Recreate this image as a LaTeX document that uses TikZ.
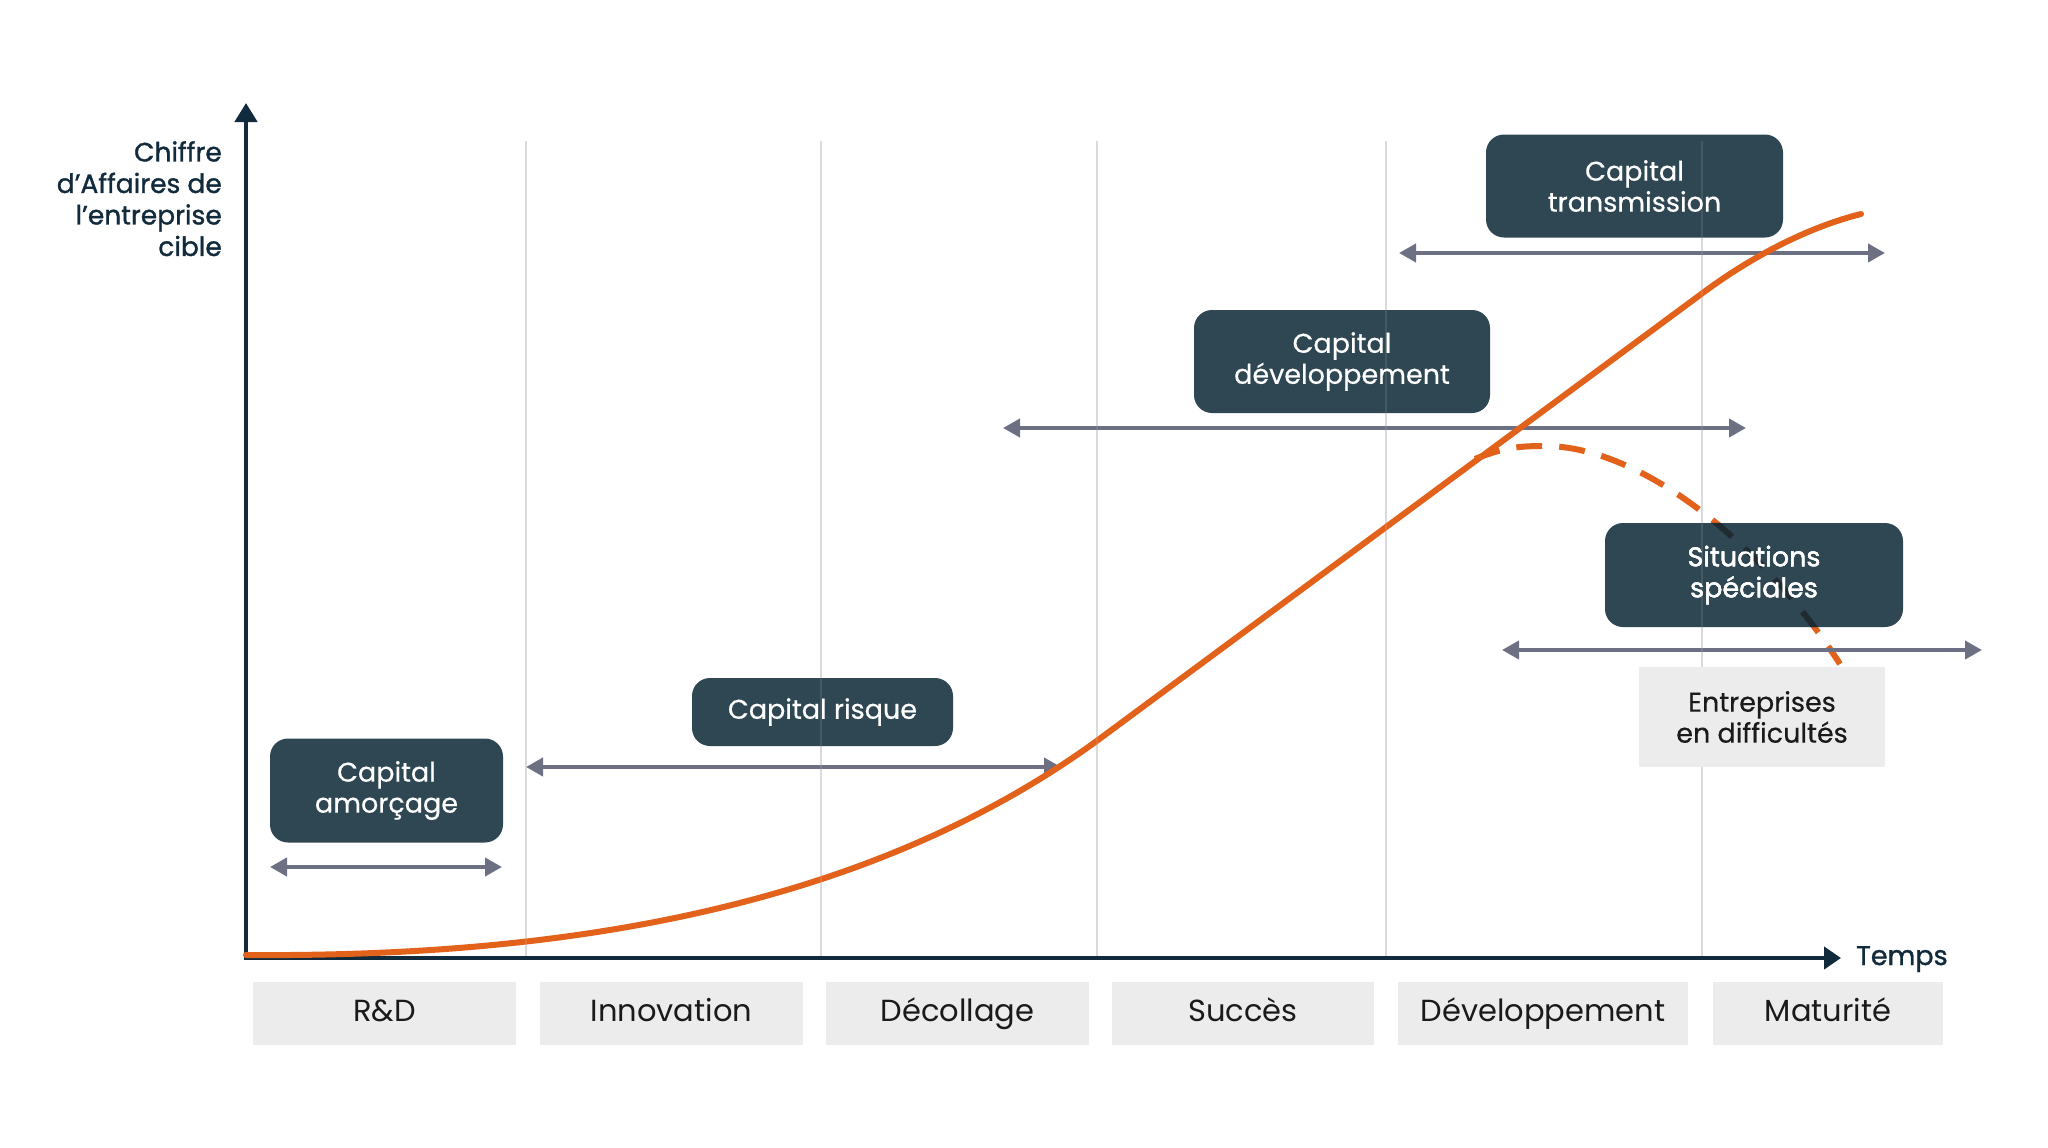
\documentclass[tikz,border=0pt]{standalone}
\usepackage{fontspec}
\setmainfont{Poppins}
\newfontfamily\popmed{Poppins}[FakeBold=0.5]
\newfontfamily\popsemi{Poppins}[FakeBold=1.2]
\usetikzlibrary{arrows.meta}
\definecolor{navy}{HTML}{112B3C}
\definecolor{boxc}{HTML}{2F4753}
\definecolor{rngc}{HTML}{6C7082}
\definecolor{phasec}{HTML}{ECECEC}
\definecolor{gridc}{HTML}{D6D6D6}
\definecolor{orangec}{HTML}{E2621B}
\definecolor{txtc}{HTML}{1A1A1A}
\definecolor{shadowc}{HTML}{1F2B31}
\begin{document}
\begin{tikzpicture}[x=1pt,y=-1pt,
  axis/.style={draw=navy, line width=4.5pt, line cap=butt, line join=miter},
  gridline/.style={draw=gridc, line width=2pt},
  gridfaint/.style={draw=white, line width=2pt, opacity=0.1},
  darkbox/.style={fill=boxc, rounded corners=18pt, text=white, inner sep=0pt,
    font=\popmed\fontsize{27}{31}\selectfont, align=center},
  phase/.style={fill=phasec, inner sep=0pt, minimum height=63pt, text=txtc,
    text height=21pt, text depth=6pt, font=\fontsize{30.5}{35}\selectfont},
  rng/.style={draw=rngc, line width=4pt,
    {Triangle[length=17pt,width=18pt]}-{Triangle[length=17pt,width=18pt]}},
  curve/.style={draw=orangec, line width=6pt, line cap=round, line join=round},
]
\useasboundingbox (0,0) rectangle (2048,1148);
\fill[white] (0,0) rectangle (2048,1148);

% grid lines
\foreach \gx in {526,821,1097,1386,1702}
  \draw[gridline] (\gx,141) -- (\gx,956);

% phase boxes
\node[phase, minimum width=263pt] (rd) at (384.5,1013.5) {R\&D};
\node[phase, minimum width=263pt] (inno) at (671.5,1013.5) {Innovation};
\node[phase, minimum width=263pt] (deco) at (957.5,1013.5) {Décollage};
\node[phase, minimum width=262pt] (succ) at (1243,1013.5) {Succès};
\node[phase, minimum width=290pt] (devp) at (1543,1013.5) {Développement};
\node[phase, minimum width=230pt] (matu) at (1828,1013.5) {Maturité};

% axes
\coordinate (O) at (246,958);
\coordinate (ytip) at (246,103);
\coordinate (xtip) at (1841,958);
\draw[axis, {Triangle[length=19pt,width=22pt]}-{Triangle[length=17pt,width=22pt]}] (ytip) -- (O) -- (xtip);
\node[font=\popsemi\fontsize{27}{31}\selectfont, text=navy, anchor=base west, inner sep=0pt] (temps) at (1856,965) {Temps};
\node[font=\popsemi\fontsize{26.5}{31.5}\selectfont, text=navy, anchor=north east, align=right, inner sep=0pt] (ylab) at (222,141) {Chiffre\\d’Affaires de\\l’entreprise\\cible};

% range arrows
\coordinate (am1) at (270,867); \coordinate (am2) at (502,867);
\coordinate (ri1) at (526,767); \coordinate (ri2) at (1061,767);
\coordinate (de1) at (1003,428); \coordinate (de2) at (1746,428);
\coordinate (tr1) at (1399,253); \coordinate (tr2) at (1885,253);
\coordinate (si1) at (1502,650); \coordinate (si2) at (1982,650);
\draw[rng] (am1) -- (am2);
\draw[rng] (ri1) -- (ri2);
\draw[rng] (de1) -- (de2);
\draw[rng] (tr1) -- (tr2);

% difficulties box
\node[fill=phasec, inner sep=0pt, minimum width=246pt, minimum height=100pt, text=txtc,
  font=\popmed\fontsize{27}{31}\selectfont, align=center] (diff) at (1762,717) {Entreprises\\en difficultés};

% main curve
\draw[curve] (246,955) .. controls (520,957) and (848,922.5) .. (1098,740)
  -- (1704,292) .. controls (1744,262.4) and (1801,229) .. (1861,214);

% dashed branch
\def\dashpath{(1475,459) .. controls (1505,447) and (1520,446) .. (1546,446) .. controls (1640,447) and (1760,540) .. (1840,664)}
\draw[curve, line cap=butt, dash pattern=on 26pt off 17pt] \dashpath;

% dark boxes
\node[darkbox, minimum width=233pt, minimum height=104pt] (amorc) at (386.5,790.5) {Capital\\amorçage};
\node[darkbox, minimum width=261pt, minimum height=68pt] (risq) at (822.5,712) {Capital risque};
\node[darkbox, minimum width=296pt, minimum height=103pt] (dev) at (1342,361.5) {Capital\\développement};
\node[darkbox, minimum width=297pt, minimum height=103pt] (trans) at (1634.5,186) {Capital\\transmission};
\node[darkbox, minimum width=298pt, minimum height=104pt] (sit) at (1754,575) {Situations\\spéciales};
\begin{scope}
  \clip[rounded corners=18pt] (sit.north west) rectangle (sit.south east);
  \draw[curve, draw=shadowc, line cap=butt, dash pattern=on 26pt off 17pt] \dashpath;
\end{scope}
\node[font=\popmed\fontsize{27}{31}\selectfont, text=white, align=center, inner sep=0pt] (sittext) at (sit.center) {Situations\\spéciales};
\draw[rng] (si1) -- (si2);

% faint grid lines over boxes
\foreach \gx in {526,821,1097,1386,1702}
  \draw[gridfaint] (\gx,141) -- (\gx,956);
\end{tikzpicture}
\end{document}
